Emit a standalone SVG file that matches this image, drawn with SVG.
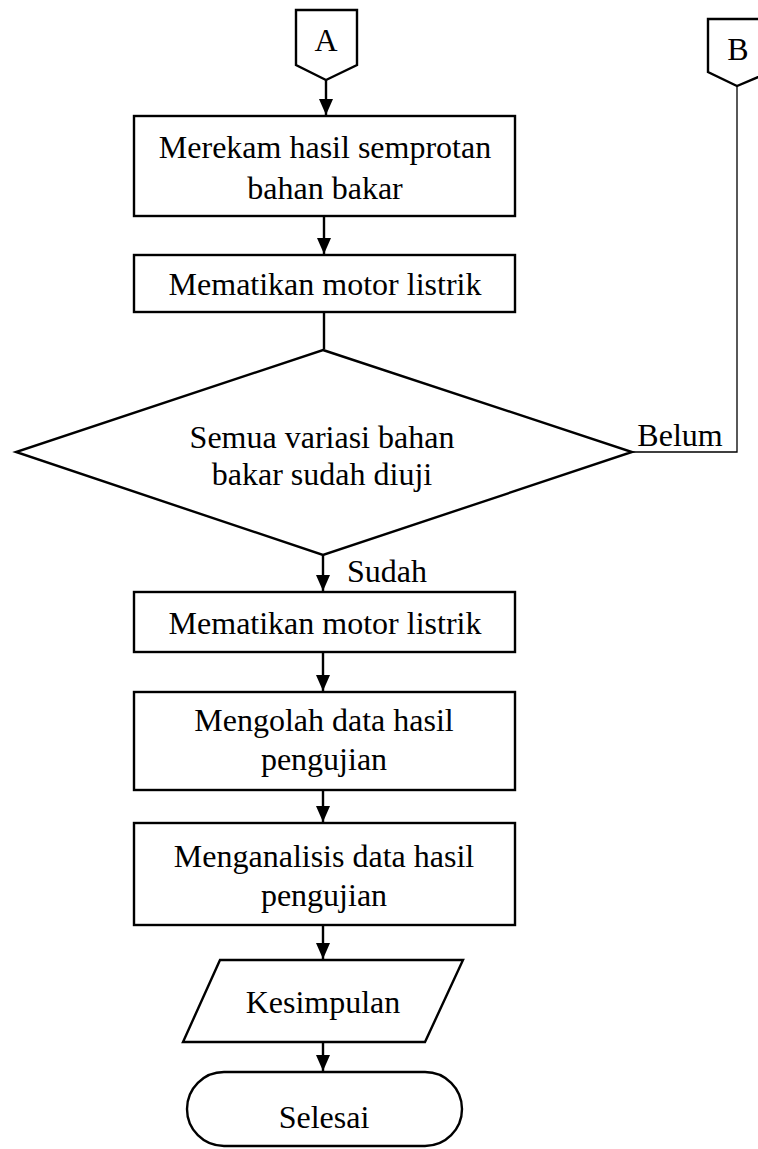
<svg xmlns="http://www.w3.org/2000/svg" width="758" height="1149" viewBox="0 0 758 1149">
<defs>
<marker id="ah" markerWidth="17" markerHeight="14" refX="16" refY="7" orient="auto" markerUnits="userSpaceOnUse" viewBox="0 0 17 14">
<path d="M0,0 L16,7 L0,14 Z" fill="#000"/>
</marker>
<style>
.s{fill:#fff;stroke:#000;stroke-width:2.4}
.t{font-family:"Liberation Serif","Times New Roman",serif;font-size:32px;fill:#000;text-anchor:middle}
.c{fill:none;stroke:#000;stroke-width:2.4}
.thin{fill:none;stroke:#000;stroke-width:1.3}
</style>
</defs>
<rect width="758" height="1149" fill="#fff"/>
<g id="connectors">
<line class="c" x1="326" y1="80" x2="326" y2="115" marker-end="url(#ah)"/>
<line class="c" x1="324" y1="216" x2="324" y2="254" marker-end="url(#ah)"/>
<line class="c" x1="324" y1="312" x2="324" y2="349"/>
<line class="c" x1="323" y1="555" x2="323" y2="591" marker-end="url(#ah)"/>
<line class="c" x1="323" y1="652" x2="323" y2="691" marker-end="url(#ah)"/>
<line class="c" x1="323" y1="790" x2="323" y2="822" marker-end="url(#ah)"/>
<line class="c" x1="323" y1="925" x2="323" y2="959" marker-end="url(#ah)"/>
<line class="c" x1="323" y1="1042" x2="323" y2="1071" marker-end="url(#ah)"/>
<polyline class="thin" points="632,452 737,452 737,86"/>
<text class="t" x="680" y="446">Belum</text>
<text class="t" x="387" y="582">Sudah</text>
</g>
<g id="connA">
<polygon class="s" points="296,10 357,10 357,65 326,80 296,65"/>
<text class="t" x="326" y="51">A</text>
</g>
<g id="connB">
<polygon class="s" points="708,19 770,19 770,72 737,86 708,72"/>
<text class="t" x="738" y="60">B</text>
</g>
<g id="box1">
<rect class="s" x="134" y="116" width="381" height="100"/>
<text class="t" x="325" y="158">Merekam hasil semprotan</text>
<text class="t" x="325" y="199">bahan bakar</text>
</g>
<g id="box2">
<rect class="s" x="134" y="255" width="381" height="57"/>
<text class="t" x="325" y="295">Mematikan motor listrik</text>
</g>
<g id="decision">
<polygon class="s" points="323,350 632,452 323,555 16,452"/>
<text class="t" x="322" y="448">Semua variasi bahan</text>
<text class="t" x="322" y="485">bakar sudah diuji</text>
</g>
<g id="box3">
<rect class="s" x="134" y="592" width="381" height="60"/>
<text class="t" x="325" y="634">Mematikan motor listrik</text>
</g>
<g id="box4">
<rect class="s" x="134" y="692" width="381" height="98"/>
<text class="t" x="324" y="731">Mengolah data hasil</text>
<text class="t" x="324" y="770">pengujian</text>
</g>
<g id="box5">
<rect class="s" x="134" y="823" width="381" height="102"/>
<text class="t" x="324" y="867">Menganalisis data hasil</text>
<text class="t" x="324" y="906">pengujian</text>
</g>
<g id="output">
<polygon class="s" points="220,960 463,960 425,1042 183,1042"/>
<text class="t" x="323" y="1013">Kesimpulan</text>
</g>
<g id="end">
<rect class="s" x="187" y="1072" width="275" height="74" rx="37" ry="37"/>
<text class="t" x="324" y="1128">Selesai</text>
</g>
</svg>
